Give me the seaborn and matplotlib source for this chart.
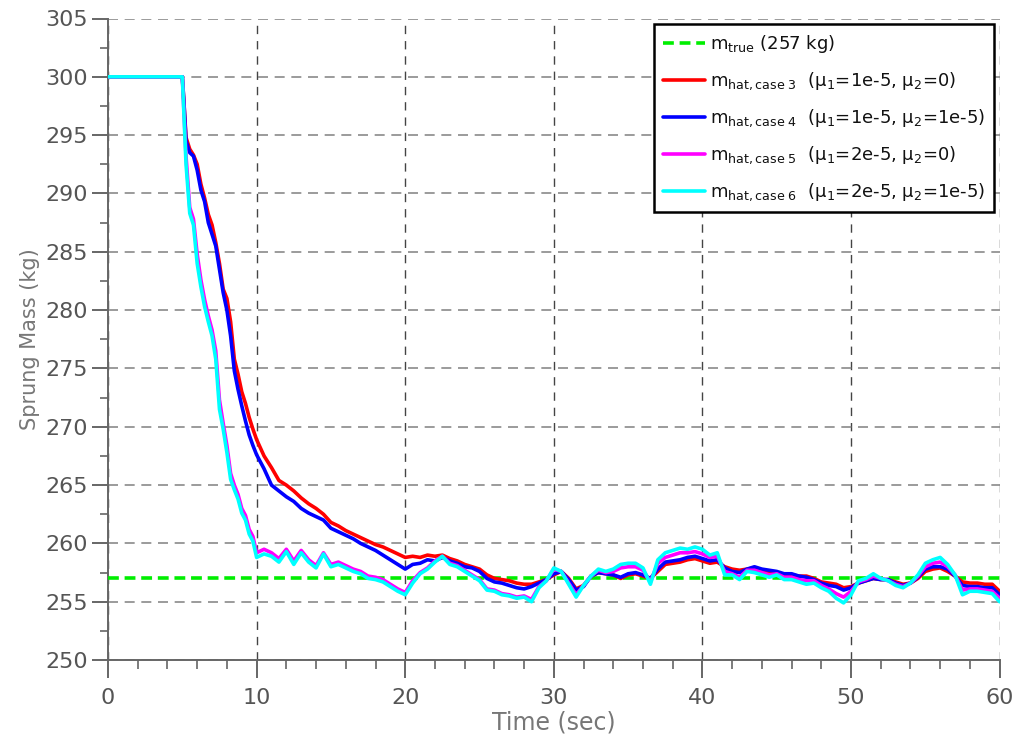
import numpy as np
import pandas as pd
import matplotlib
matplotlib.use("Agg")
import matplotlib.pyplot as plt
import seaborn as sns
from matplotlib.ticker import MultipleLocator

# ---------------- data ----------------
time = [0.0, 5.0, 5.1, 5.25, 5.5, 5.75, 6.0, 6.25, 6.5, 6.75, 7.0, 7.25, 7.5, 7.75,
        8.0, 8.25, 8.5, 8.75, 9.0, 9.25, 9.5, 9.75,
        10.0, 10.5, 11.0, 11.5, 12.0, 12.5, 13.0, 13.5, 14.0, 14.5,
        15.0, 15.5, 16.0, 16.5, 17.0, 17.5, 18.0, 18.5, 19.0, 19.5,
        20.0, 20.5, 21.0, 21.5, 22.0, 22.5, 23.0, 23.5, 24.0, 24.5,
        25.0, 25.5, 26.0, 26.5, 27.0, 27.5, 28.0, 28.5, 29.0, 29.5,
        30.0, 30.5, 31.0, 31.5, 32.0, 32.5, 33.0, 33.5, 34.0, 34.5,
        35.0, 35.5, 36.0, 36.5, 37.0, 37.5, 38.0, 38.5, 39.0, 39.5,
        40.0, 40.5, 41.0, 41.5, 42.0, 42.5, 43.0, 43.5, 44.0, 44.5,
        45.0, 45.5, 46.0, 46.5, 47.0, 47.5, 48.0, 48.5, 49.0, 49.5,
        50.0, 50.5, 51.0, 51.5, 52.0, 52.5, 53.0, 53.5, 54.0, 54.5,
        55.0, 55.5, 56.0, 56.5, 57.0, 57.5, 58.0, 58.5, 59.0, 59.5, 60.0]

m_case3 = [300.0, 300.0, 298.0, 294.8, 293.8, 293.3, 292.5, 290.8, 289.6, 288.2, 287.3, 285.8, 284.0, 281.8,
           281.0, 279.0, 275.8, 274.5, 273.0, 272.0, 270.8, 269.8,
           268.9, 267.5, 266.5, 265.4, 265.0, 264.5, 263.9, 263.4, 263.0, 262.5,
           261.8, 261.5, 261.1, 260.8, 260.5, 260.2, 259.9, 259.7, 259.4, 259.1,
           258.8, 258.9, 258.8, 259.0, 258.9, 259.0, 258.7, 258.5, 258.2, 258.0,
           257.8, 257.3, 257.0, 256.9, 256.8, 256.6, 256.5, 256.5, 256.7, 256.9,
           257.3, 257.6, 257.0, 256.1, 256.4, 257.2, 257.5, 257.4, 257.3, 257.0,
           257.3, 257.4, 257.2, 257.0, 257.6, 258.2, 258.3, 258.4, 258.6, 258.7,
           258.5, 258.3, 258.4, 258.0, 257.8, 257.7, 257.8, 257.9, 257.7, 257.6,
           257.5, 257.3, 257.3, 257.2, 257.2, 257.0, 256.7, 256.6, 256.5, 256.2,
           256.3, 256.6, 256.8, 257.0, 256.9, 256.9, 256.7, 256.5, 256.6, 257.0,
           257.6, 257.8, 257.9, 257.6, 257.2, 256.7, 256.6, 256.6, 256.5, 256.5, 255.9]

m_case4 = [300.0, 300.0, 298.0, 294.5, 293.5, 293.2, 292.0, 290.3, 289.3, 287.5, 286.5, 285.5, 283.5, 281.5,
           280.0, 277.8, 274.8, 273.2, 271.8, 270.5, 269.3, 268.4,
           267.6, 266.4, 265.0, 264.5, 264.0, 263.6, 263.0, 262.6, 262.3, 262.0,
           261.3, 261.0, 260.7, 260.4, 260.0, 259.7, 259.4, 259.0, 258.6, 258.2,
           257.8, 258.2, 258.3, 258.6, 258.5, 258.8, 258.5, 258.3, 258.0, 257.9,
           257.6, 257.0, 256.7, 256.6, 256.4, 256.2, 256.1, 256.3, 256.6, 256.9,
           257.4, 257.6, 256.9, 256.0, 256.3, 257.2, 257.5, 257.4, 257.3, 257.1,
           257.4, 257.5, 257.3, 257.0, 257.8, 258.4, 258.5, 258.6, 258.8, 258.9,
           258.7, 258.5, 258.6, 257.9, 257.6, 257.5, 257.8, 258.0, 257.8, 257.7,
           257.6, 257.4, 257.4, 257.2, 257.1, 256.9, 256.6, 256.4, 256.3, 256.0,
           256.2, 256.6, 256.8, 257.0, 256.9, 256.9, 256.6, 256.4, 256.6, 257.1,
           257.8, 258.0, 258.0, 257.8, 257.2, 256.4, 256.3, 256.3, 256.2, 256.2, 255.6]

m_case5 = [300.0, 300.0, 297.3, 293.2, 288.8, 287.8, 284.8, 282.6, 280.9, 279.5, 278.3, 276.5, 272.3, 270.3,
           268.4, 266.0, 265.0, 264.2, 263.0, 262.4, 261.2, 260.6,
           259.2, 259.5, 259.2, 258.7, 259.5, 258.5, 259.4, 258.6, 258.1, 259.2,
           258.2, 258.4, 258.1, 257.8, 257.6, 257.2, 257.1, 256.9, 256.5, 256.1,
           255.8, 256.8, 257.5, 257.9, 258.5, 258.9, 258.3, 258.1, 257.7, 257.3,
           256.9, 256.1, 256.0, 255.7, 255.6, 255.4, 255.5, 255.2, 256.3, 256.8,
           257.8, 257.6, 256.6, 255.6, 256.4, 257.2, 257.7, 257.5, 257.6, 257.9,
           258.0, 258.0, 257.7, 256.7, 258.3, 258.8, 259.0, 259.2, 259.2, 259.3,
           259.1, 258.8, 258.9, 257.6, 257.4, 257.1, 257.7, 257.7, 257.5, 257.3,
           257.4, 257.1, 257.1, 256.9, 256.8, 256.8, 256.4, 256.1, 255.7, 255.4,
           255.9, 256.7, 256.9, 257.2, 257.0, 256.8, 256.5, 256.3, 256.6, 257.2,
           258.0, 258.3, 258.4, 258.0, 257.3, 256.0, 256.1, 256.1, 256.0, 255.9, 255.3]

m_case6 = [300.0, 300.0, 297.0, 292.5, 288.3, 287.3, 284.0, 282.0, 280.3, 279.0, 277.8, 275.8, 271.5, 269.8,
           267.8, 265.5, 264.6, 263.8, 262.6, 262.0, 260.8, 260.2,
           258.8, 259.1, 258.9, 258.4, 259.3, 258.2, 259.2, 258.4, 257.9, 259.1,
           258.0, 258.2, 257.9, 257.6, 257.4, 257.0, 256.9, 256.7, 256.3, 255.9,
           255.6, 256.6, 257.4, 257.8, 258.4, 258.9, 258.2, 258.0, 257.6, 257.2,
           256.8, 256.0, 255.9, 255.6, 255.5, 255.3, 255.4, 255.0, 256.2, 256.8,
           257.9, 257.6, 256.5, 255.4, 256.4, 257.2, 257.8, 257.6, 257.8, 258.2,
           258.3, 258.3, 257.9, 256.5, 258.6, 259.2, 259.4, 259.6, 259.5, 259.7,
           259.5, 259.0, 259.2, 257.3, 257.3, 256.9, 257.6, 257.5, 257.3, 257.1,
           257.3, 256.9, 256.9, 256.7, 256.5, 256.6, 256.2, 255.9, 255.3, 254.9,
           255.6, 256.8, 257.0, 257.4, 257.0, 256.8, 256.4, 256.2, 256.6, 257.3,
           258.3, 258.6, 258.8, 258.2, 257.3, 255.6, 255.9, 255.9, 255.8, 255.7, 255.0]

true_time = [0.0, 60.0]
true_mass = [257.0, 257.0]

labels = [r"m$_{\mathregular{true}}$ (257 kg)",
          r"m$_{\mathregular{hat,case\ 3}}$  (μ$_{\mathregular{1}}$=1e-5, μ$_{\mathregular{2}}$=0)",
          r"m$_{\mathregular{hat,case\ 4}}$  (μ$_{\mathregular{1}}$=1e-5, μ$_{\mathregular{2}}$=1e-5)",
          r"m$_{\mathregular{hat,case\ 5}}$  (μ$_{\mathregular{1}}$=2e-5, μ$_{\mathregular{2}}$=0)",
          r"m$_{\mathregular{hat,case\ 6}}$  (μ$_{\mathregular{1}}$=2e-5, μ$_{\mathregular{2}}$=1e-5)"]
colors = ["#00ee00", "#ff0000", "#0000ff", "#ff00ff", "#00ffff"]

x_ticks = [0, 10, 20, 30, 40, 50, 60]
y_ticks = [250, 255, 260, 265, 270, 275, 280, 285, 290, 295, 300, 305]

# ---------------- style ----------------
sns.set_style("white")
plt.rcParams["font.family"] = ["DejaVu Sans"]
plt.rcParams["mathtext.default"] = "regular"

fig = plt.figure(figsize=(10.19, 7.40), dpi=100)
ax = fig.add_axes([0.106, 0.108, 0.875, 0.867])

ax.grid(False)
sns.lineplot(x=true_time, y=true_mass, ax=ax, color=colors[0], lw=2.6,
             linestyle=(0, (3, 1.6)), label=labels[0], zorder=3)
for vals, lab, col in zip([m_case3, m_case4, m_case5, m_case6], labels[1:], colors[1:]):
    sns.lineplot(x=time, y=vals, ax=ax, color=col, lw=2.6, label=lab, zorder=4,
                 estimator=None, sort=False)

ax.set_xlim(0, 60)
ax.set_ylim(250, 305)
ax.set_xticks(x_ticks)
ax.set_yticks(y_ticks)
ax.xaxis.set_minor_locator(MultipleLocator(2))
ax.yaxis.set_minor_locator(MultipleLocator(2.5))

ax.grid(True, which="major", axis="x", color="#444444", lw=1.0, linestyle=(0, (6, 5)), zorder=0)
ax.grid(True, which="major", axis="y", color="#8a8a8a", lw=1.2, linestyle=(0, (6, 4)), zorder=0)

for s in ["top", "right"]:
    ax.spines[s].set_visible(False)
for s in ["left", "bottom"]:
    ax.spines[s].set_color("#666666")
    ax.spines[s].set_linewidth(1.4)

ax.tick_params(axis="both", which="both", bottom=True, left=True, top=False, right=False)
ax.tick_params(axis="both", which="major", direction="out", colors="#666666",
               labelcolor="#555555", labelsize=16, width=1.4)
ax.tick_params(axis="y", which="major", length=11.5, pad=3)
ax.tick_params(axis="x", which="major", length=13, pad=7)
ax.tick_params(axis="y", which="minor", direction="out", length=6, width=1.2, colors="#666666")
ax.tick_params(axis="x", which="minor", direction="out", length=6.5, width=1.2, colors="#666666")

ax.set_xlabel("Time (sec)", fontsize=17, color="#777777", labelpad=2)
ax.set_ylabel("Sprung Mass (kg)", fontsize=15, color="#777777", labelpad=4)

leg = ax.legend(loc="upper right", bbox_to_anchor=(0.994, 0.991), borderaxespad=0,
                fontsize=13, frameon=True, fancybox=False, framealpha=1,
                edgecolor="black", handlelength=2.3, handletextpad=0.3,
                labelspacing=0.85, borderpad=0.5)
leg.get_frame().set_linewidth(1.8)
for t in leg.get_texts():
    t.set_color("#111111")

fig.savefig("out.png", dpi=100)
